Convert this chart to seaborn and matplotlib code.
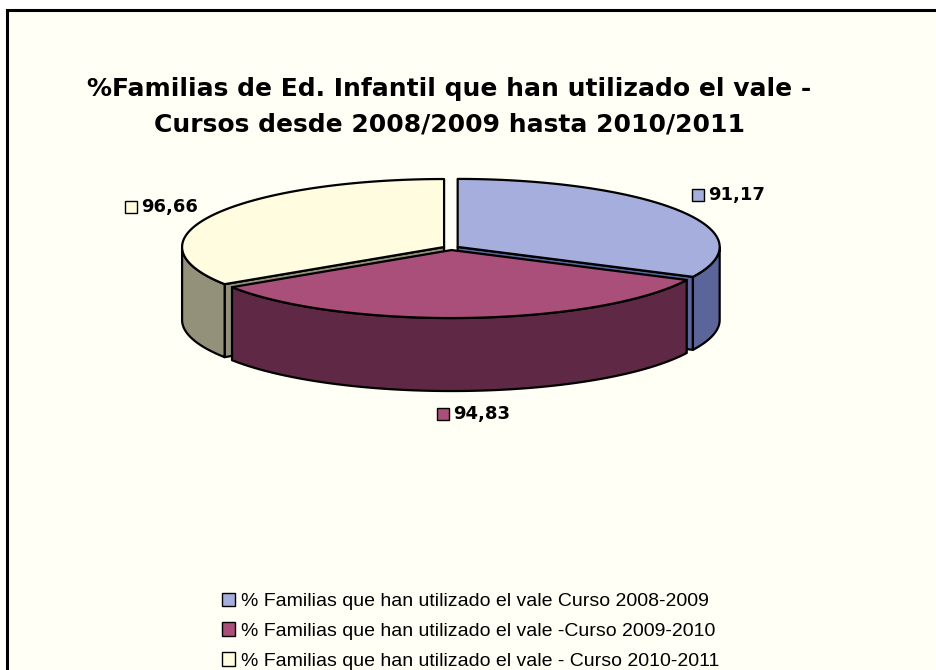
import numpy as np
import matplotlib
matplotlib.use("Agg")
import matplotlib.pyplot as plt
from matplotlib.patches import Polygon, Rectangle, Patch
import seaborn as sns

# data
categories = [
    "% Familias que han utilizado el vale Curso 2008-2009",
    "% Familias que han utilizado el vale -Curso 2009-2010",
    "% Familias que han utilizado el vale - Curso 2010-2011",
]
values = [91.17, 94.83, 96.66]
value_labels = ["91,17", "94,83", "96,66"]
title = ("%Familias de Ed. Infantil que han utilizado el vale -\n"
         "Cursos desde 2008/2009 hasta 2010/2011")

top_colors = ["#A5AEDC", "#A94F79", "#FFFCE0"]
side_colors = ["#5B6599", "#5F2844", "#939179"]
bg = "#FFFFF5"

sns.set_style("white")
plt.rcParams["font.family"] = ["Liberation Sans", "DejaVu Sans"]
plt.rcParams["text.color"] = "black"

W, H = 936, 670
fig = plt.figure(figsize=(W / 100, H / 100), dpi=100)
fig.patch.set_facecolor("white")
ax = fig.add_axes([0, 0, 1, 1])
ax.set_xlim(0, W)
ax.set_ylim(H, 0)
ax.axis("off")

# chart area frame (only top and left visible in the crop)
ax.add_patch(Rectangle((7, 10), W + 20, H + 20, facecolor=bg,
                       edgecolor="black", lw=2.2, zorder=0))

# pie geometry (pixels)
cx, cy = 451, 248
rx, ry = 262, 68
depth = 73
explode = 0.03

fracs = np.array(values) / np.sum(values)
cum = np.concatenate([[0], np.cumsum(fracs)])


def rim(theta, dx, dy, r=1.0):
    t = np.radians(theta)
    return cx + dx + rx * r * np.cos(t), cy + dy - ry * r * np.sin(t)


edge = dict(edgecolor="black", lw=1.6, joinstyle="round")
walls, outer, tops, labels = [], [], [], []
for i, v in enumerate(values):
    a1 = 90 - cum[i + 1] * 360
    a2 = 90 - cum[i] * 360
    mid = np.radians((a1 + a2) / 2)
    dx = explode * rx * np.cos(mid)
    dy = -explode * ry * np.sin(mid)
    apex = (cx + dx, cy + dy)

    ts = np.linspace(a1, a2, 240)
    xs, ys = rim(ts, dx, dy)
    tops.append(Polygon(np.column_stack([np.r_[apex[0], xs], np.r_[apex[1], ys]]),
                        facecolor=top_colors[i], zorder=4, **edge))

    # front part of the curved wall
    front = np.sin(np.radians(ts)) <= 1e-9
    if front.sum() > 1:
        fx, fy = xs[front], ys[front]
        pts = np.column_stack([np.r_[fx, fx[::-1]], np.r_[fy, fy[::-1] + depth]])
        outer.append((fy.mean(), Polygon(pts, facecolor=side_colors[i], **edge)))

    # radial cut faces facing the viewer
    for ang, visible in ((a1, np.cos(np.radians(a1)) > 0),
                         (a2, np.cos(np.radians(a2)) < 0)):
        if visible:
            rxp, ryp = rim(ang, dx, dy)
            pts = [apex, (rxp, ryp), (rxp, ryp + depth), (apex[0], apex[1] + depth)]
            walls.append(Polygon(pts, facecolor=side_colors[i], zorder=1, **edge))

    # data label position outside the slice
    lx, ly = rim(np.degrees(mid), dx, dy)
    lx += (54 if np.cos(mid) > 0 else 62) * np.cos(mid)
    if np.sin(mid) < 0:
        ly += depth - 2 - 25 * np.sin(mid)
    elif np.cos(mid) > 0:
        ly -= 30 * np.sin(mid)
    else:
        ly -= 16 * np.sin(mid)
    labels.append((lx, ly))

for p in walls:
    ax.add_patch(p)
for k, (_, p) in enumerate(sorted(outer, key=lambda t: t[0])):
    p.set_zorder(2 + k * 0.1)
    ax.add_patch(p)
for p in tops:
    ax.add_patch(p)

for i, (lx, ly) in enumerate(labels):
    ax.plot(lx - 28, ly, marker="s", ms=8, mfc=top_colors[i], mec="black",
            mew=1.0, zorder=6)
    ax.text(lx - 18, ly, value_labels[i], ha="left", va="center",
            fontsize=13, fontweight="bold", family="DejaVu Sans", zorder=6)

# title
ax.text(449, 107, title, ha="center", va="center", fontsize=18,
        fontweight="bold", family="DejaVu Sans", linespacing=1.6)

# legend
handles = [Patch(facecolor=top_colors[i], edgecolor="black", lw=1.0)
           for i in range(len(categories))]
leg = fig.legend(handles, categories, loc="upper left",
                 bbox_to_anchor=(212 / W, 1 - 583 / H), frameon=False,
                 fontsize=14, handlelength=0.7, handleheight=0.7,
                 handletextpad=0.3, labelspacing=0.62, borderpad=0)
for t in leg.get_texts():
    t.set_color("black")

fig.savefig("out.png", dpi=100, facecolor=fig.get_facecolor())
